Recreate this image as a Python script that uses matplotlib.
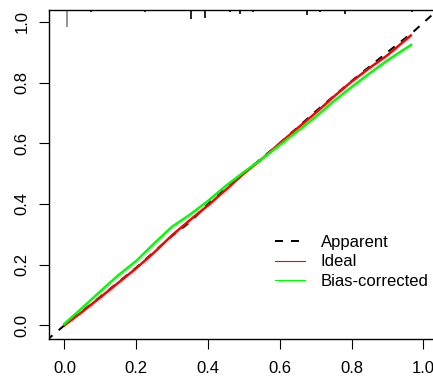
import matplotlib.pyplot as plt
from matplotlib.lines import Line2D

plt.rcParams['font.family'] = ['Liberation Sans', 'DejaVu Sans']

# predicted probability grid and curves
x_ideal = [0.0, 0.05, 0.1, 0.125, 0.15, 0.2, 0.25, 0.3, 0.35, 0.4, 0.45, 0.5,
           0.55, 0.6, 0.65, 0.7, 0.75, 0.8, 0.85, 0.9, 0.95, 0.965]
y_ideal = [0.0, 0.045, 0.092, 0.116, 0.14, 0.188, 0.24, 0.297, 0.347, 0.395, 0.447, 0.5,
           0.548, 0.6, 0.65, 0.70, 0.753, 0.803, 0.848, 0.89, 0.94, 0.955]

x_bias = [0.0, 0.05, 0.1, 0.15, 0.2, 0.25, 0.3, 0.35, 0.4, 0.45, 0.5,
          0.55, 0.6, 0.65, 0.7, 0.75, 0.8, 0.85, 0.9, 0.95, 0.966]
y_bias = [0.005, 0.058, 0.112, 0.165, 0.212, 0.27, 0.325, 0.365, 0.41, 0.46, 0.505,
          0.548, 0.594, 0.64, 0.687, 0.738, 0.785, 0.83, 0.873, 0.912, 0.924]

x_app = [-0.05, 0.0, 0.1, 0.2, 0.3, 0.35, 0.4, 0.5, 0.6, 0.7, 0.8, 0.9, 0.97, 1.05]
y_app = [-0.05, 0.0, 0.094, 0.19, 0.295, 0.34, 0.4, 0.502, 0.6, 0.705, 0.805, 0.9, 0.965, 1.05]

# spike histogram of predictions along the top
rug_x = [0.008, 0.075, 0.225, 0.353, 0.392, 0.462, 0.49, 0.526, 0.596, 0.676,
         0.713, 0.783, 0.813, 0.852, 0.889, 0.969]
rug_h = [17, 2, 2, 9, 8, 2, 4, 2, 1.5, 5, 2.5, 4, 1, 1, 1, 2]  # pixels

ticks = [0.0, 0.2, 0.4, 0.6, 0.8, 1.0]
tick_labels = ['0.0', '0.2', '0.4', '0.6', '0.8', '1.0']

fig = plt.figure(figsize=(4.33, 3.81), dpi=100)
ax = fig.add_axes([49.3 / 433, 42 / 381, (438.4 - 49.3) / 433, 329.3 / 381])

ax.plot(x_app, y_app, color='black', lw=1.44, linestyle=(0, (4, 4)))
ax.plot(x_ideal, y_ideal, color='#ff0000', lw=1.8)
ax.plot(x_bias, y_bias, color='#00ff00', lw=1.8)

rug_col = ['#808080'] + ['black'] * (len(rug_x) - 1)
ax.vlines(rug_x, [1 - h / 329.3 for h in rug_h], 1, colors=rug_col, lw=1.2,
          transform=ax.get_xaxis_transform())

ax.set_xlim(-0.042, 1.042)
ax.set_ylim(-0.045, 1.04)
ax.spines['right'].set_visible(False)
for s in ax.spines.values():
    s.set_linewidth(1.0)

ax.set_xticks(ticks)
ax.set_xticklabels(tick_labels)
ax.set_yticks(ticks)
ax.set_yticklabels(tick_labels, rotation=90, va='center')
ax.tick_params(direction='out', length=7.2, width=0.8, labelsize=12)
ax.tick_params(axis='x', pad=8.5)
ax.tick_params(axis='y', pad=7)

handles = [Line2D([], [], color='black', lw=1.44, linestyle=(0, (4, 4))),
           Line2D([], [], color='#ff0000', lw=0.8),
           Line2D([], [], color='#00ff00', lw=0.8)]
fig.legend(handles, ['Apparent', 'Ideal', 'Bias-corrected'], loc='upper left',
           bbox_to_anchor=(275 / 433, (381 - 235) / 381), frameon=False, fontsize=12,
           borderpad=0, borderaxespad=0, handlelength=1.8, handletextpad=0.94,
           labelspacing=0.27)

fig.savefig('out.png', dpi=100)
